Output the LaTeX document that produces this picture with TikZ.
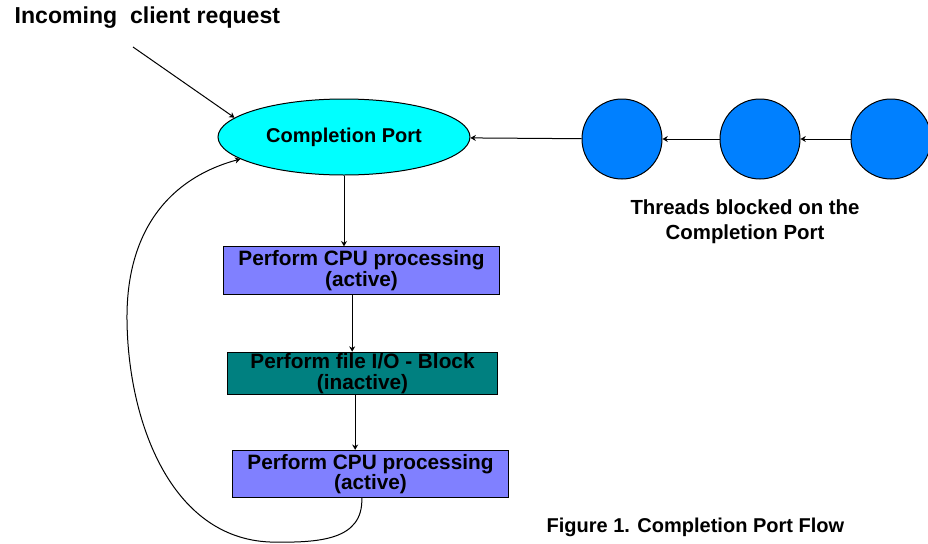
\documentclass[tikz,border=0pt]{standalone}
\usepackage{fontspec}
\setmainfont{Liberation Sans}
\usepackage{xcolor}
\usepackage{tikz}
\usetikzlibrary{arrows.meta,positioning,shapes.geometric}
\definecolor{portcyan}{HTML}{00FFFF}
\definecolor{threadblue}{HTML}{0080FF}
\definecolor{activeblue}{HTML}{8080FF}
\definecolor{blockteal}{HTML}{008080}

\begin{document}
\begin{tikzpicture}[
  x=0.75pt, y=-0.75pt,
  every node/.style={font=\bfseries\fontsize{15}{15}\selectfont},
  port/.style={ellipse, draw, line width=0.75pt, fill=portcyan,
               minimum width=189pt, minimum height=57pt},
  thread/.style={circle, draw, line width=0.75pt, fill=threadblue,
                 minimum size=60pt, inner sep=0pt},
  active/.style={draw, line width=0.75pt, fill=activeblue, align=center,
                 minimum width=207pt, minimum height=35.5pt, inner sep=1pt,
                 font=\bfseries\fontsize{15.6}{15.2}\selectfont},
  blocked/.style={draw, line width=0.75pt, fill=blockteal, align=center,
                  minimum width=202pt, minimum height=32pt, inner sep=1pt,
                  font=\bfseries\fontsize{15.6}{15.2}\selectfont},
  note/.style={align=center, font=\bfseries\fontsize{15.3}{18.75}\selectfont},
  arrow/.style={-{Stealth[length=4pt, width=4.5pt]}, line width=0.75pt}
]
  \useasboundingbox (0,0) rectangle (928,543);

  \node[anchor=west, font=\bfseries\fontsize{17.3}{17.3}\selectfont] (incoming)
    at (10,18) {Incoming\ \ client request};
  \coordinate (incstart) at (133,47);

  \node[port] (cp) at (344,137) {Completion Port};

  \node[thread] (c1) at (622,139) {};
  \node[thread, right=42.75pt of c1] (c2) {};
  \node[thread, right=37.5pt of c2] (c3) {};
  \node[note] (threads) at (745,222) {Threads blocked on the\\Completion Port};

  \node[active] (cpu1) at (361.5,270.5) {Perform CPU processing\\(active)};
  \node[blocked] (io) at (362.5,373.5) {Perform file I/O - Block\\(inactive)};
  \node[active] (cpu2) at (370.5,474) {Perform CPU processing\\(active)};

  \node[anchor=west] (caption) at (542,527) {Figure 1. Completion Port Flow};

  \foreach \a/\b in {c3/c2,c2/c1,c1/cp}
    \draw[arrow] (\a) -- (\b);

  \draw[arrow] (incstart) -- (cp.170);
  \draw[arrow] (cp.south) -- (cp.south |- cpu1.north);
  \draw[arrow] ([xshift=-7pt]cpu1.south) -- ([xshift=-7pt]cpu1.south |- io.north);
  \draw[arrow] ([xshift=-5.5pt]io.south) -- ([xshift=-5.5pt]io.south |- cpu2.north);

  \coordinate (loopbottom) at (270,542);
  \coordinate (loopleft) at (127,320);
  \draw[arrow] ([xshift=-6.5pt]cpu2.south) .. controls (363,540) and (320,543) .. (loopbottom)
    .. controls (170,538) and (128,420) .. (loopleft)
    .. controls (126,230) and (170,178) .. (cp.192);
\end{tikzpicture}
\end{document}
